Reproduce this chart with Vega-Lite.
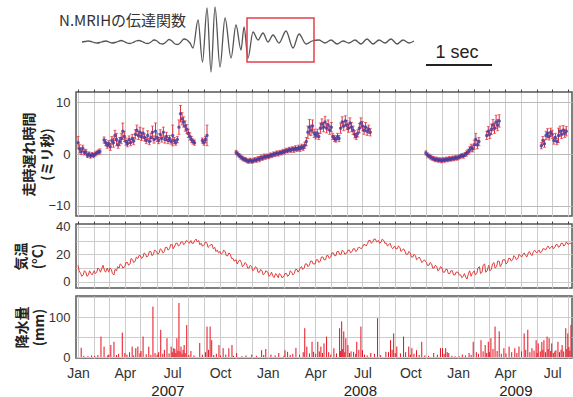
{
"$schema": "https://vega.github.io/schema/vega-lite/v6.json",
"padding": {"left": 13, "top": 0, "right": 0, "bottom": 0},
"spacing": 8,
"bounds": "flush",
"config": {
 "font": "Liberation Sans",
 "view": {"stroke": "#555", "strokeWidth": 1.5},
 "axis": {"labelColor": "#333", "labelFontSize": 13, "gridColor": "#cccccc", "gridWidth": 1, "domain": false, "ticks": false}
},
"resolve": {"scale": {"x": "independent", "y": "independent"}},
"datasets": {
 "wave": [
  {"t":0,"a":0},{"t":0.045,"a":0.5},{"t":0.091,"a":1},{"t":0.136,"a":0.5},{"t":0.182,"a":-0.5},{"t":0.227,"a":-1},{"t":0.273,"a":-0.5},{"t":0.318,"a":0.5},{"t":0.364,"a":1},{"t":0.409,"a":0},{"t":0.455,"a":-1},{"t":0.5,"a":-0.5},{"t":0.545,"a":0.5},{"t":0.591,"a":1.5},{"t":0.636,"a":0.5},{"t":0.682,"a":-1},{"t":0.727,"a":-1.5},{"t":0.773,"a":-0.5},{"t":0.818,"a":1},{"t":0.864,"a":1.5},{"t":0.909,"a":0.5},{"t":0.955,"a":-1},{"t":1.0,"a":-1.5},{"t":1.045,"a":0},{"t":1.091,"a":2},{"t":1.136,"a":1},{"t":1.182,"a":-1.5},{"t":1.227,"a":-2},{"t":1.273,"a":0},{"t":1.318,"a":2.5},{"t":1.364,"a":1},{"t":1.409,"a":-2},{"t":1.455,"a":-2.5},{"t":1.5,"a":0},{"t":1.545,"a":3},{"t":1.591,"a":2},{"t":1.636,"a":-1},
  {"t":1.682,"a":-6},{"t":1.758,"a":22},{"t":1.826,"a":-20},{"t":1.894,"a":34},{"t":1.955,"a":-30},{"t":2.015,"a":35},{"t":2.091,"a":-25},{"t":2.167,"a":24},{"t":2.258,"a":-16},{"t":2.333,"a":17},{"t":2.409,"a":-8},{"t":2.455,"a":15},{"t":2.515,"a":-16},{"t":2.591,"a":10},{"t":2.667,"a":2},{"t":2.742,"a":9},{"t":2.818,"a":0},{"t":2.894,"a":7},{"t":2.985,"a":-1},{"t":3.091,"a":11},{"t":3.197,"a":-6},{"t":3.288,"a":8},{"t":3.394,"a":-2},{"t":3.485,"a":1},
  {"t":3.591,"a":2},{"t":3.682,"a":-1},{"t":3.773,"a":2},{"t":3.864,"a":-2},{"t":3.955,"a":1},{"t":4.045,"a":-1},{"t":4.136,"a":2},{"t":4.227,"a":-2},{"t":4.318,"a":3},{"t":4.409,"a":-2},{"t":4.5,"a":2},{"t":4.591,"a":-1},{"t":4.682,"a":3},{"t":4.773,"a":-2},{"t":4.864,"a":2},{"t":4.955,"a":-1},{"t":5.03,"a":1}
 ],
 "delay": [
  {"d":"2007-01-01","v":2.2,"e":1.2},{"d":"2007-01-04","v":1.0,"e":0.8},{"d":"2007-01-07","v":0.5,"e":0.6},{"d":"2007-01-10","v":1.1,"e":0.6},{"d":"2007-01-13","v":0.3,"e":0.5},{"d":"2007-01-16","v":0.4,"e":0.5},{"d":"2007-01-19","v":-0.3,"e":0.4},{"d":"2007-01-22","v":0.0,"e":0.4},{"d":"2007-01-25","v":-0.4,"e":0.4},{"d":"2007-01-28","v":-0.1,"e":0.4},{"d":"2007-01-31","v":-0.3,"e":0.4},{"d":"2007-02-03","v":0.0,"e":0.4},{"d":"2007-02-06","v":0.2,"e":0.4},{"d":"2007-02-09","v":0.4,"e":0.4},{"d":"2007-02-12","v":0.5,"e":0.5},
  {"d":"2007-02-20","v":2.7,"e":0.6},{"d":"2007-02-23","v":2.2,"e":0.6},{"d":"2007-02-26","v":1.7,"e":0.6},{"d":"2007-03-01","v":2.0,"e":0.6},{"d":"2007-03-04","v":1.4,"e":0.7},{"d":"2007-03-07","v":2.6,"e":0.8},{"d":"2007-03-10","v":2.2,"e":0.9},{"d":"2007-03-13","v":3.6,"e":1.0},{"d":"2007-03-16","v":2.8,"e":1.2},{"d":"2007-03-19","v":1.8,"e":0.7},{"d":"2007-03-22","v":2.4,"e":0.8},{"d":"2007-03-25","v":3.0,"e":1.0},{"d":"2007-03-28","v":4.4,"e":1.6},{"d":"2007-03-31","v":3.4,"e":1.0},{"d":"2007-04-03","v":2.4,"e":0.7},{"d":"2007-04-06","v":2.0,"e":0.6},{"d":"2007-04-09","v":2.8,"e":0.7},{"d":"2007-04-12","v":2.2,"e":0.6},{"d":"2007-04-15","v":3.0,"e":0.8},{"d":"2007-04-18","v":2.5,"e":0.7},{"d":"2007-04-21","v":3.8,"e":0.9},{"d":"2007-04-24","v":4.6,"e":1.0},{"d":"2007-04-27","v":3.6,"e":0.8},{"d":"2007-04-30","v":4.2,"e":1.0},{"d":"2007-05-03","v":3.4,"e":0.8},{"d":"2007-05-06","v":4.0,"e":1.0},{"d":"2007-05-09","v":3.2,"e":0.7},{"d":"2007-05-12","v":2.6,"e":0.6},{"d":"2007-05-15","v":3.6,"e":0.9},{"d":"2007-05-18","v":2.4,"e":0.6},{"d":"2007-05-21","v":3.2,"e":0.8},{"d":"2007-05-24","v":4.2,"e":1.2},{"d":"2007-05-27","v":2.8,"e":0.7},{"d":"2007-05-30","v":4.4,"e":1.6},{"d":"2007-06-02","v":3.2,"e":0.8},{"d":"2007-06-05","v":2.6,"e":0.6},{"d":"2007-06-08","v":3.8,"e":0.9},{"d":"2007-06-11","v":3.0,"e":0.7},{"d":"2007-06-14","v":4.2,"e":1.0},{"d":"2007-06-17","v":2.8,"e":0.7},{"d":"2007-06-20","v":3.4,"e":0.8},{"d":"2007-06-23","v":2.6,"e":0.6},{"d":"2007-06-26","v":3.0,"e":0.6},{"d":"2007-06-29","v":2.4,"e":0.5},{"d":"2007-07-02","v":3.6,"e":2.0},{"d":"2007-07-05","v":2.6,"e":0.6},{"d":"2007-07-08","v":2.2,"e":0.5},{"d":"2007-07-11","v":2.8,"e":0.6},{"d":"2007-07-14","v":5.2,"e":1.4},{"d":"2007-07-17","v":7.8,"e":1.6},{"d":"2007-07-20","v":6.8,"e":1.2},{"d":"2007-07-23","v":6.2,"e":1.0},{"d":"2007-07-26","v":5.4,"e":1.0},{"d":"2007-07-29","v":4.8,"e":0.9},{"d":"2007-08-01","v":4.0,"e":0.8},{"d":"2007-08-04","v":3.4,"e":0.7},{"d":"2007-08-07","v":2.8,"e":0.6},{"d":"2007-08-10","v":2.4,"e":0.5},{"d":"2007-08-13","v":2.2,"e":0.5},
  {"d":"2007-08-28","v":2.6,"e":0.5},{"d":"2007-08-31","v":2.2,"e":0.5},{"d":"2007-09-03","v":2.8,"e":0.6},{"d":"2007-09-06","v":3.6,"e":2.0},
  {"d":"2007-11-01","v":0.3,"e":0.4},{"d":"2007-11-04","v":0.0,"e":0.4},{"d":"2007-11-07","v":-0.3,"e":0.4},{"d":"2007-11-10","v":-0.6,"e":0.4},{"d":"2007-11-13","v":-0.8,"e":0.4},{"d":"2007-11-16","v":-1.0,"e":0.4},{"d":"2007-11-19","v":-1.1,"e":0.4},{"d":"2007-11-22","v":-1.3,"e":0.4},{"d":"2007-11-25","v":-1.4,"e":0.4},{"d":"2007-11-28","v":-1.2,"e":0.4},{"d":"2007-12-01","v":-1.4,"e":0.4},{"d":"2007-12-04","v":-1.3,"e":0.4},{"d":"2007-12-07","v":-1.1,"e":0.4},{"d":"2007-12-10","v":-1.2,"e":0.4},{"d":"2007-12-13","v":-0.9,"e":0.4},{"d":"2007-12-16","v":-1.0,"e":0.5},{"d":"2007-12-19","v":-0.7,"e":0.5},{"d":"2007-12-22","v":-0.8,"e":0.4},{"d":"2007-12-25","v":-0.5,"e":0.5},{"d":"2007-12-28","v":-0.6,"e":0.4},{"d":"2007-12-31","v":-0.4,"e":0.4},{"d":"2008-01-03","v":-0.5,"e":0.4},{"d":"2008-01-06","v":-0.2,"e":0.4},{"d":"2008-01-09","v":-0.3,"e":0.4},{"d":"2008-01-12","v":0.0,"e":0.4},{"d":"2008-01-15","v":-0.1,"e":0.4},{"d":"2008-01-18","v":0.2,"e":0.4},{"d":"2008-01-21","v":0.0,"e":0.4},{"d":"2008-01-24","v":0.3,"e":0.4},{"d":"2008-01-27","v":0.2,"e":0.4},{"d":"2008-01-30","v":0.5,"e":0.4},{"d":"2008-02-02","v":0.4,"e":0.4},{"d":"2008-02-05","v":0.7,"e":0.4},{"d":"2008-02-08","v":0.6,"e":0.4},{"d":"2008-02-11","v":0.9,"e":0.4},{"d":"2008-02-14","v":0.7,"e":0.4},{"d":"2008-02-17","v":1.0,"e":0.4},{"d":"2008-02-20","v":0.8,"e":0.5},{"d":"2008-02-23","v":1.1,"e":0.5},{"d":"2008-02-26","v":0.9,"e":0.4},{"d":"2008-02-29","v":1.2,"e":0.5},{"d":"2008-03-03","v":1.0,"e":0.5},{"d":"2008-03-06","v":1.4,"e":0.5},{"d":"2008-03-09","v":1.2,"e":0.5},{"d":"2008-03-12","v":1.7,"e":0.6},{"d":"2008-03-15","v":2.4,"e":0.8},{"d":"2008-03-18","v":4.2,"e":1.2},{"d":"2008-03-21","v":5.2,"e":1.5},{"d":"2008-03-24","v":4.6,"e":1.0},{"d":"2008-03-27","v":5.4,"e":1.2},{"d":"2008-03-30","v":4.0,"e":0.8},{"d":"2008-04-02","v":3.6,"e":0.7},{"d":"2008-04-05","v":4.0,"e":0.8},{"d":"2008-04-08","v":3.4,"e":0.6},{"d":"2008-04-11","v":5.0,"e":1.0},{"d":"2008-04-14","v":5.8,"e":1.0},{"d":"2008-04-17","v":5.2,"e":0.9},{"d":"2008-04-20","v":6.2,"e":1.1},{"d":"2008-04-23","v":5.0,"e":0.9},{"d":"2008-04-26","v":5.6,"e":1.0},{"d":"2008-04-29","v":4.6,"e":0.8},{"d":"2008-05-02","v":5.2,"e":0.9},{"d":"2008-05-05","v":3.4,"e":0.6},{"d":"2008-05-08","v":3.0,"e":0.6},{"d":"2008-05-11","v":2.8,"e":0.5},{"d":"2008-05-14","v":3.4,"e":0.6},{"d":"2008-05-17","v":3.0,"e":0.6},{"d":"2008-05-20","v":5.0,"e":1.0},{"d":"2008-05-23","v":6.2,"e":1.0},{"d":"2008-05-26","v":5.4,"e":0.9},{"d":"2008-05-29","v":6.4,"e":1.0},{"d":"2008-06-01","v":5.6,"e":0.9},{"d":"2008-06-04","v":5.0,"e":0.8},{"d":"2008-06-07","v":6.0,"e":1.0},{"d":"2008-06-10","v":5.2,"e":0.9},{"d":"2008-06-13","v":4.6,"e":0.8},{"d":"2008-06-16","v":3.8,"e":0.7},{"d":"2008-06-19","v":3.4,"e":0.6},{"d":"2008-06-22","v":4.0,"e":0.7},{"d":"2008-06-25","v":5.0,"e":0.9},{"d":"2008-06-28","v":6.0,"e":1.0},{"d":"2008-07-01","v":5.4,"e":0.9},{"d":"2008-07-04","v":4.6,"e":0.8},{"d":"2008-07-07","v":5.2,"e":0.9},{"d":"2008-07-10","v":4.4,"e":0.8},{"d":"2008-07-13","v":4.8,"e":0.8},{"d":"2008-07-16","v":4.2,"e":0.7},
  {"d":"2008-10-31","v":0.2,"e":0.4},{"d":"2008-11-03","v":-0.2,"e":0.4},{"d":"2008-11-06","v":-0.4,"e":0.4},{"d":"2008-11-09","v":-0.6,"e":0.4},{"d":"2008-11-12","v":-0.8,"e":0.4},{"d":"2008-11-15","v":-0.9,"e":0.4},{"d":"2008-11-18","v":-1.1,"e":0.4},{"d":"2008-11-21","v":-1.0,"e":0.4},{"d":"2008-11-24","v":-1.2,"e":0.4},{"d":"2008-11-27","v":-1.1,"e":0.4},{"d":"2008-11-30","v":-1.3,"e":0.4},{"d":"2008-12-03","v":-1.1,"e":0.4},{"d":"2008-12-06","v":-1.2,"e":0.4},{"d":"2008-12-09","v":-1.0,"e":0.4},{"d":"2008-12-12","v":-1.1,"e":0.4},{"d":"2008-12-15","v":-0.9,"e":0.4},{"d":"2008-12-18","v":-1.0,"e":0.4},{"d":"2008-12-21","v":-0.8,"e":0.4},{"d":"2008-12-24","v":-0.9,"e":0.4},{"d":"2008-12-27","v":-0.7,"e":0.4},{"d":"2008-12-30","v":-0.8,"e":0.4},{"d":"2009-01-02","v":-0.6,"e":0.4},{"d":"2009-01-05","v":-0.5,"e":0.4},{"d":"2009-01-08","v":-0.3,"e":0.4},{"d":"2009-01-11","v":-0.4,"e":0.4},{"d":"2009-01-14","v":-0.1,"e":0.4},{"d":"2009-01-17","v":0.1,"e":0.5},{"d":"2009-01-20","v":0.4,"e":0.5},{"d":"2009-01-23","v":0.8,"e":0.6},{"d":"2009-01-26","v":1.2,"e":0.7},{"d":"2009-01-29","v":1.0,"e":0.6},{"d":"2009-02-01","v":1.8,"e":0.9},{"d":"2009-02-04","v":2.8,"e":1.2},{"d":"2009-02-07","v":1.8,"e":0.8},{"d":"2009-02-10","v":2.4,"e":0.8},
  {"d":"2009-02-25","v":3.6,"e":0.8},{"d":"2009-02-28","v":4.4,"e":0.9},{"d":"2009-03-03","v":3.8,"e":0.8},{"d":"2009-03-06","v":4.8,"e":1.0},{"d":"2009-03-09","v":5.6,"e":1.1},{"d":"2009-03-12","v":5.0,"e":1.0},{"d":"2009-03-15","v":6.2,"e":1.3},{"d":"2009-03-18","v":5.6,"e":1.1},{"d":"2009-03-21","v":6.4,"e":1.2},
  {"d":"2009-06-10","v":1.6,"e":0.6},{"d":"2009-06-13","v":2.6,"e":0.8},{"d":"2009-06-16","v":2.0,"e":0.7},{"d":"2009-06-19","v":3.6,"e":0.8},{"d":"2009-06-22","v":4.0,"e":0.9},{"d":"2009-06-25","v":3.4,"e":0.7},{"d":"2009-06-28","v":4.2,"e":0.8},{"d":"2009-07-01","v":3.8,"e":0.8},{"d":"2009-07-04","v":2.6,"e":0.7},{"d":"2009-07-07","v":3.2,"e":0.8},{"d":"2009-07-10","v":2.4,"e":0.6},{"d":"2009-07-13","v":3.6,"e":1.4},{"d":"2009-07-16","v":4.4,"e":1.0},{"d":"2009-07-19","v":3.8,"e":0.8},{"d":"2009-07-22","v":4.6,"e":0.9},{"d":"2009-07-25","v":4.0,"e":0.8},{"d":"2009-07-28","v":4.4,"e":0.9}
 ],
 "temp": [
  {"d":"2007-01-01","t":12},{"d":"2007-01-03","t":8},{"d":"2007-01-06","t":6},{"d":"2007-01-08","t":4},{"d":"2007-01-11","t":5},{"d":"2007-01-13","t":8},{"d":"2007-01-16","t":7},{"d":"2007-01-18","t":4},{"d":"2007-01-21","t":5},{"d":"2007-01-23","t":8},{"d":"2007-01-26","t":6},{"d":"2007-01-28","t":5},
  {"d":"2007-02-01","t":8},{"d":"2007-02-03","t":6},{"d":"2007-02-06","t":7},{"d":"2007-02-08","t":10},{"d":"2007-02-11","t":9},{"d":"2007-02-13","t":7},{"d":"2007-02-16","t":10},{"d":"2007-02-18","t":12},{"d":"2007-02-21","t":8},{"d":"2007-02-23","t":7},{"d":"2007-02-26","t":10},{"d":"2007-02-28","t":8},
  {"d":"2007-03-01","t":7},{"d":"2007-03-03","t":10},{"d":"2007-03-06","t":9},{"d":"2007-03-08","t":6},{"d":"2007-03-11","t":5},{"d":"2007-03-13","t":9},{"d":"2007-03-16","t":8},{"d":"2007-03-18","t":11},{"d":"2007-03-21","t":10},{"d":"2007-03-23","t":13},{"d":"2007-03-26","t":12},{"d":"2007-03-28","t":10},
  {"d":"2007-04-01","t":11},{"d":"2007-04-03","t":14},{"d":"2007-04-06","t":14},{"d":"2007-04-08","t":12},{"d":"2007-04-11","t":13},{"d":"2007-04-13","t":17},{"d":"2007-04-16","t":16},{"d":"2007-04-18","t":14},{"d":"2007-04-21","t":15},{"d":"2007-04-23","t":18},{"d":"2007-04-26","t":17},{"d":"2007-04-28","t":19},
  {"d":"2007-05-01","t":19},{"d":"2007-05-03","t":17},{"d":"2007-05-06","t":18},{"d":"2007-05-08","t":21},{"d":"2007-05-11","t":20},{"d":"2007-05-13","t":18},{"d":"2007-05-16","t":19},{"d":"2007-05-18","t":22},{"d":"2007-05-21","t":22},{"d":"2007-05-23","t":19},{"d":"2007-05-26","t":20},{"d":"2007-05-28","t":23},
  {"d":"2007-06-01","t":22},{"d":"2007-06-03","t":20},{"d":"2007-06-06","t":21},{"d":"2007-06-08","t":24},{"d":"2007-06-11","t":23},{"d":"2007-06-13","t":21},{"d":"2007-06-16","t":22},{"d":"2007-06-18","t":25},{"d":"2007-06-21","t":25},{"d":"2007-06-23","t":23},{"d":"2007-06-26","t":24},{"d":"2007-06-28","t":27},
  {"d":"2007-07-01","t":27},{"d":"2007-07-03","t":24},{"d":"2007-07-06","t":26},{"d":"2007-07-08","t":28},{"d":"2007-07-11","t":28},{"d":"2007-07-13","t":26},{"d":"2007-07-16","t":27},{"d":"2007-07-18","t":29},{"d":"2007-07-21","t":29},{"d":"2007-07-23","t":27},{"d":"2007-07-26","t":28},{"d":"2007-07-28","t":30},
  {"d":"2007-08-01","t":29},{"d":"2007-08-03","t":28},{"d":"2007-08-06","t":30},{"d":"2007-08-08","t":28},{"d":"2007-08-11","t":28},{"d":"2007-08-13","t":30},{"d":"2007-08-16","t":31},{"d":"2007-08-18","t":29},{"d":"2007-08-21","t":30},{"d":"2007-08-23","t":27},{"d":"2007-08-26","t":28},{"d":"2007-08-28","t":26},
  {"d":"2007-09-01","t":27},{"d":"2007-09-03","t":29},{"d":"2007-09-06","t":28},{"d":"2007-09-08","t":25},{"d":"2007-09-11","t":26},{"d":"2007-09-13","t":27},{"d":"2007-09-16","t":27},{"d":"2007-09-18","t":24},{"d":"2007-09-21","t":25},{"d":"2007-09-23","t":22},{"d":"2007-09-26","t":23},{"d":"2007-09-28","t":21},
  {"d":"2007-10-01","t":22},{"d":"2007-10-03","t":20},{"d":"2007-10-06","t":21},{"d":"2007-10-08","t":23},{"d":"2007-10-11","t":22},{"d":"2007-10-13","t":19},{"d":"2007-10-16","t":19},{"d":"2007-10-18","t":21},{"d":"2007-10-21","t":20},{"d":"2007-10-23","t":17},{"d":"2007-10-26","t":17},{"d":"2007-10-28","t":15},
  {"d":"2007-11-01","t":16},{"d":"2007-11-03","t":13},{"d":"2007-11-06","t":15},{"d":"2007-11-08","t":16},{"d":"2007-11-11","t":14},{"d":"2007-11-13","t":11},{"d":"2007-11-16","t":12},{"d":"2007-11-18","t":14},{"d":"2007-11-21","t":13},{"d":"2007-11-23","t":10},{"d":"2007-11-26","t":10},{"d":"2007-11-28","t":12},
  {"d":"2007-12-01","t":11},{"d":"2007-12-03","t":8},{"d":"2007-12-06","t":9},{"d":"2007-12-08","t":11},{"d":"2007-12-11","t":10},{"d":"2007-12-13","t":7},{"d":"2007-12-16","t":7},{"d":"2007-12-18","t":9},{"d":"2007-12-21","t":8},{"d":"2007-12-23","t":5},{"d":"2007-12-26","t":6},{"d":"2007-12-28","t":8},
  {"d":"2008-01-01","t":7},{"d":"2008-01-03","t":4},{"d":"2008-01-06","t":5},{"d":"2008-01-08","t":7},{"d":"2008-01-11","t":4},{"d":"2008-01-13","t":3},{"d":"2008-01-16","t":6},{"d":"2008-01-18","t":5},{"d":"2008-01-21","t":3},{"d":"2008-01-23","t":6},{"d":"2008-01-26","t":5},{"d":"2008-01-28","t":3},
  {"d":"2008-02-01","t":4},{"d":"2008-02-03","t":6},{"d":"2008-02-06","t":6},{"d":"2008-02-08","t":4},{"d":"2008-02-11","t":5},{"d":"2008-02-13","t":8},{"d":"2008-02-16","t":7},{"d":"2008-02-18","t":5},{"d":"2008-02-21","t":6},{"d":"2008-02-23","t":9},{"d":"2008-02-26","t":9},{"d":"2008-02-28","t":7},
  {"d":"2008-03-01","t":8},{"d":"2008-03-03","t":10},{"d":"2008-03-06","t":11},{"d":"2008-03-08","t":9},{"d":"2008-03-11","t":10},{"d":"2008-03-13","t":13},{"d":"2008-03-16","t":13},{"d":"2008-03-18","t":11},{"d":"2008-03-21","t":12},{"d":"2008-03-23","t":15},{"d":"2008-03-26","t":15},{"d":"2008-03-28","t":13},
  {"d":"2008-04-01","t":13},{"d":"2008-04-03","t":16},{"d":"2008-04-06","t":16},{"d":"2008-04-08","t":14},{"d":"2008-04-11","t":15},{"d":"2008-04-13","t":18},{"d":"2008-04-16","t":18},{"d":"2008-04-18","t":16},{"d":"2008-04-21","t":16},{"d":"2008-04-23","t":19},{"d":"2008-04-26","t":19},{"d":"2008-04-28","t":17},
  {"d":"2008-05-01","t":18},{"d":"2008-05-03","t":21},{"d":"2008-05-06","t":21},{"d":"2008-05-08","t":19},{"d":"2008-05-11","t":19},{"d":"2008-05-13","t":22},{"d":"2008-05-16","t":22},{"d":"2008-05-18","t":20},{"d":"2008-05-21","t":20},{"d":"2008-05-23","t":23},{"d":"2008-05-26","t":22},{"d":"2008-05-28","t":20},
  {"d":"2008-06-01","t":21},{"d":"2008-06-03","t":23},{"d":"2008-06-06","t":23},{"d":"2008-06-08","t":21},{"d":"2008-06-11","t":22},{"d":"2008-06-13","t":24},{"d":"2008-06-16","t":24},{"d":"2008-06-18","t":22},{"d":"2008-06-21","t":23},{"d":"2008-06-23","t":25},{"d":"2008-06-26","t":25},{"d":"2008-06-28","t":24},
  {"d":"2008-07-01","t":25},{"d":"2008-07-03","t":27},{"d":"2008-07-06","t":27},{"d":"2008-07-08","t":26},{"d":"2008-07-11","t":28},{"d":"2008-07-13","t":30},{"d":"2008-07-16","t":30},{"d":"2008-07-18","t":28},{"d":"2008-07-21","t":29},{"d":"2008-07-23","t":31},{"d":"2008-07-26","t":31},{"d":"2008-07-28","t":29},
  {"d":"2008-08-01","t":30},{"d":"2008-08-03","t":28},{"d":"2008-08-06","t":29},{"d":"2008-08-08","t":31},{"d":"2008-08-11","t":30},{"d":"2008-08-13","t":28},{"d":"2008-08-16","t":28},{"d":"2008-08-18","t":26},{"d":"2008-08-21","t":27},{"d":"2008-08-23","t":28},{"d":"2008-08-26","t":25},{"d":"2008-08-28","t":24},
  {"d":"2008-09-01","t":26},{"d":"2008-09-03","t":24},{"d":"2008-09-06","t":24},{"d":"2008-09-08","t":26},{"d":"2008-09-11","t":25},{"d":"2008-09-13","t":22},{"d":"2008-09-16","t":23},{"d":"2008-09-18","t":24},{"d":"2008-09-21","t":22},{"d":"2008-09-23","t":20},{"d":"2008-09-26","t":20},{"d":"2008-09-28","t":22},
  {"d":"2008-10-01","t":21},{"d":"2008-10-03","t":18},{"d":"2008-10-06","t":18},{"d":"2008-10-08","t":20},{"d":"2008-10-11","t":19},{"d":"2008-10-13","t":16},{"d":"2008-10-16","t":17},{"d":"2008-10-18","t":18},{"d":"2008-10-21","t":16},{"d":"2008-10-23","t":14},{"d":"2008-10-26","t":15},{"d":"2008-10-28","t":16},
  {"d":"2008-11-01","t":14},{"d":"2008-11-03","t":12},{"d":"2008-11-06","t":12},{"d":"2008-11-08","t":14},{"d":"2008-11-11","t":13},{"d":"2008-11-13","t":10},{"d":"2008-11-16","t":10},{"d":"2008-11-18","t":12},{"d":"2008-11-21","t":11},{"d":"2008-11-23","t":8},{"d":"2008-11-26","t":9},{"d":"2008-11-28","t":11},
  {"d":"2008-12-01","t":10},{"d":"2008-12-03","t":7},{"d":"2008-12-06","t":7},{"d":"2008-12-08","t":9},{"d":"2008-12-11","t":9},{"d":"2008-12-13","t":6},{"d":"2008-12-16","t":6},{"d":"2008-12-18","t":8},{"d":"2008-12-21","t":8},{"d":"2008-12-23","t":5},{"d":"2008-12-26","t":5},{"d":"2008-12-28","t":7},
  {"d":"2009-01-01","t":7},{"d":"2009-01-03","t":5},{"d":"2009-01-06","t":5},{"d":"2009-01-08","t":3},{"d":"2009-01-11","t":4},{"d":"2009-01-13","t":6},{"d":"2009-01-16","t":3},{"d":"2009-01-18","t":2},{"d":"2009-01-21","t":6},{"d":"2009-01-23","t":8},{"d":"2009-01-26","t":4},{"d":"2009-01-28","t":6},
  {"d":"2009-02-01","t":8},{"d":"2009-02-03","t":5},{"d":"2009-02-06","t":6},{"d":"2009-02-08","t":10},{"d":"2009-02-11","t":11},{"d":"2009-02-13","t":6},{"d":"2009-02-16","t":7},{"d":"2009-02-18","t":12},{"d":"2009-02-21","t":13},{"d":"2009-02-23","t":7},{"d":"2009-02-26","t":8},{"d":"2009-02-28","t":11},
  {"d":"2009-03-01","t":12},{"d":"2009-03-03","t":8},{"d":"2009-03-06","t":9},{"d":"2009-03-08","t":13},{"d":"2009-03-11","t":14},{"d":"2009-03-13","t":10},{"d":"2009-03-16","t":11},{"d":"2009-03-18","t":15},{"d":"2009-03-21","t":15},{"d":"2009-03-23","t":11},{"d":"2009-03-26","t":13},{"d":"2009-03-28","t":16},
  {"d":"2009-04-01","t":16},{"d":"2009-04-03","t":13},{"d":"2009-04-06","t":14},{"d":"2009-04-08","t":17},{"d":"2009-04-11","t":17},{"d":"2009-04-13","t":15},{"d":"2009-04-16","t":16},{"d":"2009-04-18","t":19},{"d":"2009-04-21","t":18},{"d":"2009-04-23","t":16},{"d":"2009-04-26","t":17},{"d":"2009-04-28","t":20},
  {"d":"2009-05-01","t":19},{"d":"2009-05-03","t":18},{"d":"2009-05-06","t":20},{"d":"2009-05-08","t":21},{"d":"2009-05-11","t":19},{"d":"2009-05-13","t":18},{"d":"2009-05-16","t":21},{"d":"2009-05-18","t":22},{"d":"2009-05-21","t":20},{"d":"2009-05-23","t":19},{"d":"2009-05-26","t":22},{"d":"2009-05-28","t":23},
  {"d":"2009-06-01","t":21},{"d":"2009-06-03","t":22},{"d":"2009-06-06","t":23},{"d":"2009-06-08","t":21},{"d":"2009-06-11","t":22},{"d":"2009-06-13","t":24},{"d":"2009-06-16","t":24},{"d":"2009-06-18","t":23},{"d":"2009-06-21","t":25},{"d":"2009-06-23","t":26},{"d":"2009-06-26","t":24},{"d":"2009-06-28","t":25},
  {"d":"2009-07-01","t":26},{"d":"2009-07-03","t":24},{"d":"2009-07-06","t":25},{"d":"2009-07-08","t":27},{"d":"2009-07-11","t":27},{"d":"2009-07-13","t":25},{"d":"2009-07-16","t":26},{"d":"2009-07-18","t":28},{"d":"2009-07-21","t":28},{"d":"2009-07-23","t":26},{"d":"2009-07-26","t":27},{"d":"2009-07-28","t":29},
  {"d":"2009-08-01","t":27},{"d":"2009-08-03","t":28},{"d":"2009-08-06","t":28}
 ],
 "precip": [
  {"d":"2007-01-07","p":23},{"d":"2007-02-14","p":51},{"d":"2007-02-20","p":26},{"d":"2007-03-05","p":30},{"d":"2007-03-11","p":38},{"d":"2007-03-27","p":61},{"d":"2007-04-01","p":10},{"d":"2007-04-15","p":26},{"d":"2007-04-22","p":22},{"d":"2007-04-26","p":26},{"d":"2007-05-06","p":51},{"d":"2007-05-17","p":26},{"d":"2007-05-25","p":126},{"d":"2007-06-09","p":68},{"d":"2007-06-21","p":47},{"d":"2007-06-29","p":26},{"d":"2007-07-04","p":22},{"d":"2007-07-10","p":47},{"d":"2007-07-14","p":135},{"d":"2007-07-18","p":26},{"d":"2007-07-24","p":30},{"d":"2007-07-29","p":80},{"d":"2007-08-06","p":15},{"d":"2007-08-23","p":35},{"d":"2007-09-06","p":76},{"d":"2007-09-12","p":76},{"d":"2007-09-15","p":42},{"d":"2007-09-29","p":30},{"d":"2007-10-07","p":22},{"d":"2007-10-18","p":22},{"d":"2007-10-24","p":30},{"d":"2007-11-02","p":10},{"d":"2007-12-01","p":6},{"d":"2007-12-20","p":17},{"d":"2007-12-28","p":20},
  {"d":"2008-01-07","p":6},{"d":"2008-01-22","p":10},{"d":"2008-02-03","p":17},{"d":"2008-02-08","p":13},{"d":"2008-02-24","p":23},{"d":"2008-03-12","p":72},{"d":"2008-03-16","p":26},{"d":"2008-03-26","p":38},{"d":"2008-03-29","p":13},{"d":"2008-04-06","p":38},{"d":"2008-04-12","p":26},{"d":"2008-04-18","p":34},{"d":"2008-04-23","p":51},{"d":"2008-05-07","p":22},{"d":"2008-05-18","p":72},{"d":"2008-05-22","p":89},{"d":"2008-05-26","p":64},{"d":"2008-05-30","p":47},{"d":"2008-06-03","p":30},{"d":"2008-06-14","p":13},{"d":"2008-06-20","p":38},{"d":"2008-06-28","p":76},{"d":"2008-07-01","p":17},{"d":"2008-07-17","p":10},{"d":"2008-07-30","p":97},{"d":"2008-08-15","p":13},{"d":"2008-08-24","p":42},{"d":"2008-08-30","p":59},{"d":"2008-09-05","p":26},{"d":"2008-09-18","p":51},{"d":"2008-09-28","p":26},{"d":"2008-10-04","p":22},{"d":"2008-10-13","p":17},{"d":"2008-10-23","p":38},{"d":"2008-11-15","p":10},{"d":"2008-11-28","p":22},{"d":"2008-12-02","p":22},{"d":"2008-12-08","p":22},{"d":"2008-12-14","p":10},
  {"d":"2009-01-09","p":6},{"d":"2009-01-22","p":10},{"d":"2009-01-30","p":38},{"d":"2009-02-14","p":42},{"d":"2009-02-22","p":30},{"d":"2009-02-28","p":38},{"d":"2009-03-05","p":47},{"d":"2009-03-13","p":76},{"d":"2009-03-21","p":64},{"d":"2009-03-30","p":22},{"d":"2009-04-09","p":26},{"d":"2009-04-20","p":22},{"d":"2009-04-28","p":26},{"d":"2009-05-08","p":59},{"d":"2009-05-15","p":68},{"d":"2009-05-23","p":22},{"d":"2009-05-31","p":42},{"d":"2009-06-04","p":34},{"d":"2009-06-11","p":38},{"d":"2009-06-15","p":42},{"d":"2009-06-21","p":51},{"d":"2009-06-25","p":47},{"d":"2009-06-30","p":34},{"d":"2009-07-08","p":17},{"d":"2009-07-12","p":38},{"d":"2009-07-20","p":30},{"d":"2009-07-27","p":72},{"d":"2009-07-31","p":59},{"d":"2009-08-06","p":80},
  {"d":"2007-01-12","p":3},{"d":"2007-01-20","p":2},{"d":"2007-01-27","p":4},{"d":"2007-02-02","p":3},{"d":"2007-02-08","p":5},{"d":"2007-02-27","p":4},{"d":"2007-03-01","p":6},{"d":"2007-03-16","p":5},{"d":"2007-03-20","p":8},{"d":"2007-04-05","p":6},{"d":"2007-04-10","p":12},{"d":"2007-04-18","p":4},{"d":"2007-04-30","p":9},{"d":"2007-05-02","p":15},{"d":"2007-05-12","p":7},{"d":"2007-05-21","p":5},{"d":"2007-05-29","p":10},{"d":"2007-06-02","p":6},{"d":"2007-06-05","p":12},{"d":"2007-06-13","p":8},{"d":"2007-06-16","p":18},{"d":"2007-06-25","p":9},{"d":"2007-07-01","p":12},{"d":"2007-07-06","p":20},{"d":"2007-07-08","p":10},{"d":"2007-07-12","p":16},{"d":"2007-07-16","p":14},{"d":"2007-07-20","p":8},{"d":"2007-07-22","p":18},{"d":"2007-07-26","p":10},{"d":"2007-08-02","p":5},{"d":"2007-08-12","p":4},{"d":"2007-08-28","p":6},{"d":"2007-09-03","p":12},{"d":"2007-09-09","p":18},{"d":"2007-09-19","p":5},{"d":"2007-09-24","p":8},{"d":"2007-10-02","p":4},{"d":"2007-10-12","p":6},{"d":"2007-10-27","p":3},{"d":"2007-11-12","p":2},{"d":"2007-11-20","p":4},{"d":"2007-12-10","p":3},{"d":"2007-12-24","p":5},
  {"d":"2008-01-15","p":4},{"d":"2008-02-01","p":3},{"d":"2008-02-13","p":5},{"d":"2008-02-18","p":8},{"d":"2008-03-02","p":6},{"d":"2008-03-09","p":12},{"d":"2008-03-21","p":9},{"d":"2008-04-02","p":8},{"d":"2008-04-09","p":14},{"d":"2008-04-15","p":10},{"d":"2008-04-27","p":12},{"d":"2008-05-01","p":6},{"d":"2008-05-12","p":9},{"d":"2008-05-20","p":15},{"d":"2008-05-24","p":20},{"d":"2008-05-28","p":12},{"d":"2008-06-06","p":10},{"d":"2008-06-09","p":14},{"d":"2008-06-18","p":8},{"d":"2008-06-24","p":18},{"d":"2008-07-05","p":6},{"d":"2008-07-10","p":4},{"d":"2008-07-24","p":8},{"d":"2008-08-05","p":5},{"d":"2008-08-20","p":12},{"d":"2008-08-27","p":18},{"d":"2008-09-02","p":10},{"d":"2008-09-12","p":9},{"d":"2008-09-22","p":12},{"d":"2008-10-01","p":6},{"d":"2008-10-08","p":8},{"d":"2008-10-18","p":5},{"d":"2008-10-29","p":4},{"d":"2008-11-05","p":3},{"d":"2008-11-22","p":6},{"d":"2008-12-05","p":8},{"d":"2008-12-11","p":12},{"d":"2008-12-20","p":3},{"d":"2008-12-26","p":2},
  {"d":"2009-01-03","p":2},{"d":"2009-01-15","p":4},{"d":"2009-01-26","p":5},{"d":"2009-02-05","p":12},{"d":"2009-02-09","p":8},{"d":"2009-02-18","p":14},{"d":"2009-02-25","p":10},{"d":"2009-03-02","p":12},{"d":"2009-03-09","p":20},{"d":"2009-03-17","p":15},{"d":"2009-03-25","p":8},{"d":"2009-04-03","p":9},{"d":"2009-04-14","p":12},{"d":"2009-04-24","p":10},{"d":"2009-05-03","p":14},{"d":"2009-05-11","p":18},{"d":"2009-05-19","p":12},{"d":"2009-05-27","p":16},{"d":"2009-06-02","p":10},{"d":"2009-06-08","p":14},{"d":"2009-06-13","p":18},{"d":"2009-06-18","p":12},{"d":"2009-06-23","p":20},{"d":"2009-06-28","p":15},{"d":"2009-07-03","p":10},{"d":"2009-07-06","p":14},{"d":"2009-07-15","p":12},{"d":"2009-07-18","p":18},{"d":"2009-07-23","p":14},{"d":"2009-07-29","p":20},{"d":"2009-08-02","p":25},{"d":"2009-08-04","p":16}
 ]
},
"vconcat": [
 {
  "width": 496, "height": 84,
  "view": {"stroke": null},
  "layer": [
   {"data": {"name": "wave"}, "mark": {"type": "line", "color": "#555555", "strokeWidth": 1.3, "interpolate": "monotone"},
    "encoding": {"x": {"field": "t", "type": "quantitative", "scale": {"domain": [-0.091, 7.424], "nice": false, "zero": false}, "axis": null},
                 "y": {"field": "a", "type": "quantitative", "scale": {"domain": [-42, 42], "nice": false, "zero": false}, "axis": null}}},
   {"data": {"values": [{}]}, "mark": {"type": "rect", "fill": null, "stroke": "#e04048", "strokeWidth": 1.5},
    "encoding": {"x": {"datum": 2.5}, "x2": {"datum": 3.515}, "y": {"datum": 24}, "y2": {"datum": -20}}},
   {"data": {"values": [{}]}, "mark": {"type": "text", "align": "left", "baseline": "middle", "fontSize": 15, "font": "Noto Sans CJK JP", "color": "#333333"},
    "encoding": {"x": {"datum": -0.348}, "y": {"datum": 21}, "text": {"value": "N.MRIHの伝達関数"}}},
   {"data": {"values": [{}]}, "mark": {"type": "text", "align": "center", "baseline": "middle", "fontSize": 18, "color": "#222222"},
    "encoding": {"x": {"datum": 5.68}, "y": {"datum": -11}, "text": {"value": "1 sec"}}},
   {"data": {"values": [{}]}, "mark": {"type": "rule", "color": "#222222", "strokeWidth": 2},
    "encoding": {"x": {"datum": 5.212}, "x2": {"datum": 6.212}, "y": {"datum": -23}}}
  ]
 },
 {
  "width": 496, "height": 124,
  "data": {"name": "delay"},
  "encoding": {
   "x": {"field": "d", "type": "temporal",
         "scale": {"type": "utc", "domain": [{"year": 2006, "month": 12, "date": 28, "utc": true}, {"year": 2009, "month": 8, "date": 8, "utc": true}], "nice": false},
         "axis": {"orient": "top", "grid": true, "labels": false, "ticks": true, "tickSize": 3, "tickColor": "#444444", "domain": false, "title": null, "tickCount": {"interval": "month", "step": 1}}},
   "y": {"field": "v", "type": "quantitative", "scale": {"domain": [-12, 12], "nice": false, "zero": false},
         "axis": {"values": [-10, 0, 10], "grid": true, "gridColor": "#bbbbbb", "labelPadding": 6,
                  "title": ["走時遅れ時間", "(ミリ秒)"], "titleFont": "Noto Sans CJK JP", "titleFontSize": 14, "titleFontWeight": "bold", "titleColor": "#222222",
                  "titleAngle": -90, "titleAlign": "center", "titleBaseline": "bottom", "titleLineHeight": 18, "titleX": -40, "titleY": 62}}
  },
  "layer": [
   {"mark": {"type": "errorbar", "ticks": {"size": 3, "color": "#e0303c"}, "color": "#e0303c", "thickness": 1},
    "encoding": {"yError": {"field": "e"}}},
   {"mark": {"type": "circle", "size": 12, "color": "#3c3ca8", "opacity": 0.8}}
  ]
 },
 {
  "width": 496, "height": 64,
  "data": {"name": "temp"},
  "mark": {"type": "line", "color": "#e23c3c", "strokeWidth": 1},
  "encoding": {
   "x": {"field": "d", "type": "temporal",
         "scale": {"type": "utc", "domain": [{"year": 2006, "month": 12, "date": 28, "utc": true}, {"year": 2009, "month": 8, "date": 8, "utc": true}], "nice": false},
         "axis": {"orient": "top", "grid": true, "labels": false, "ticks": true, "tickSize": 3, "tickColor": "#444444", "domain": false, "title": null, "tickCount": {"interval": "month", "step": 1}}},
   "y": {"field": "t", "type": "quantitative", "scale": {"domain": [-4.5, 42], "nice": false, "zero": false},
         "axis": {"values": [0, 10, 20, 30, 40], "labelExpr": "datum.value % 20 == 0 ? datum.label : ''", "grid": true, "labelPadding": 6,
                  "title": ["気温", "(°C)"], "titleFont": "Noto Sans CJK JP", "titleFontSize": 14, "titleFontWeight": "bold", "titleColor": "#222222",
                  "titleAngle": -90, "titleAlign": "center", "titleBaseline": "bottom", "titleLineHeight": 17, "titleX": -48, "titleY": 32}}
  }
 },
 {
  "width": 496, "height": 62,
  "data": {"name": "precip"},
  "resolve": {"axis": {"x": "independent"}},
  "layer": [
   {"mark": {"type": "rule", "color": "#e4101e", "strokeWidth": 1},
    "encoding": {
     "x": {"field": "d", "type": "temporal",
           "scale": {"type": "utc", "domain": [{"year": 2006, "month": 12, "date": 28, "utc": true}, {"year": 2009, "month": 8, "date": 8, "utc": true}], "nice": false},
           "axis": {"orient": "bottom", "grid": true, "ticks": false, "domain": false, "title": null, "tickCount": {"interval": "month", "step": 1},
                    "labelExpr": "utcmonth(datum.value) % 3 == 0 ? utcFormat(datum.value, '%b') : ''", "labelFontSize": 14, "labelPadding": 8, "labelColor": "#333333"}},
     "y": {"field": "p", "type": "quantitative", "scale": {"domain": [-2.5, 152.5], "nice": false, "zero": false},
           "axis": {"values": [0, 50, 100, 150], "labelExpr": "datum.value == 0 || datum.value == 100 ? datum.label : ''", "grid": true, "labelPadding": 6,
                    "title": ["降水量", "(mm)"], "titleFont": "Noto Sans CJK JP", "titleFontSize": 14, "titleFontWeight": "bold", "titleColor": "#222222",
                    "titleAngle": -90, "titleAlign": "center", "titleBaseline": "bottom", "titleLineHeight": 17, "titleX": -47, "titleY": 31}},
     "y2": {"datum": 0}
    }},
   {"mark": {"type": "rule", "opacity": 0},
    "encoding": {
     "x": {"field": "d", "type": "temporal",
           "axis": {"orient": "bottom", "grid": false, "ticks": false, "domain": false, "title": null,
                    "values": [{"year": 2007, "month": 6, "date": 22, "utc": true}, {"year": 2008, "month": 6, "date": 26, "utc": true}, {"year": 2009, "month": 4, "date": 21, "utc": true}],
                    "labelExpr": "utcFormat(datum.value, '%Y')", "labelFontSize": 15, "labelPadding": 25, "labelColor": "#222222"}}
    }}
  ]
 }
]
}
